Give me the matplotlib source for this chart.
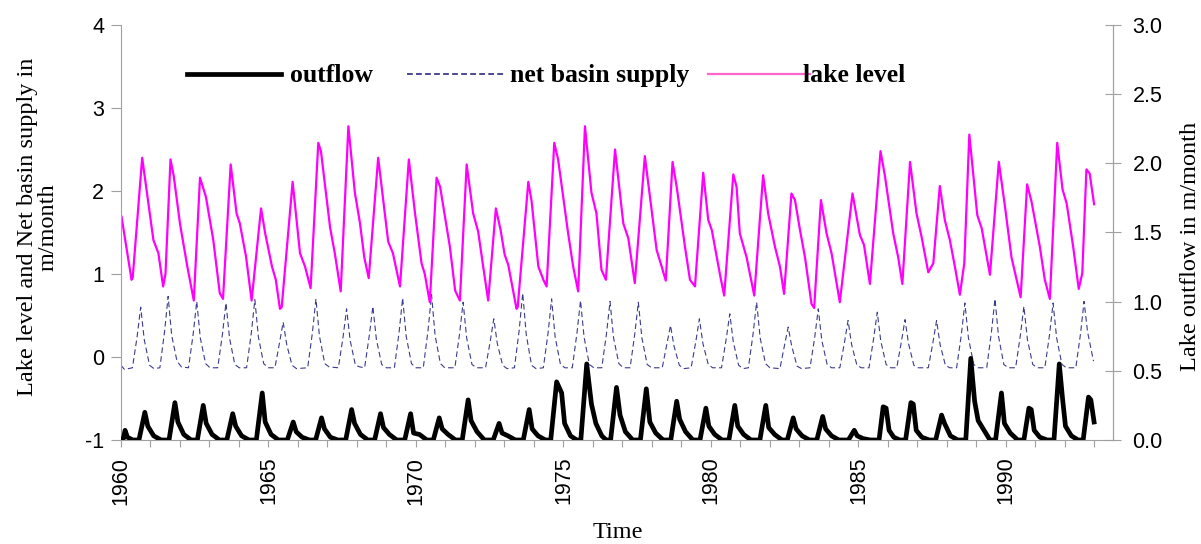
import matplotlib
matplotlib.use('Agg')
import matplotlib.pyplot as plt
from matplotlib.lines import Line2D

# lake level (left axis), vertices: decimal year, m/month
lake_t = [1960.02, 1960.36, 1960.40, 1960.72, 1961.10, 1961.27, 1961.43, 1961.51, 1961.68, 1961.79,
          1962.00, 1962.25, 1962.47, 1962.68, 1962.88, 1963.13, 1963.35, 1963.46, 1963.72, 1963.92,
          1964.03, 1964.24, 1964.43, 1964.75, 1964.89, 1965.12, 1965.25, 1965.39, 1965.45, 1965.82,
          1966.07, 1966.24, 1966.43, 1966.69, 1966.78, 1967.09, 1967.25, 1967.45, 1967.71, 1967.93,
          1968.10, 1968.25, 1968.40, 1968.72, 1969.06, 1969.22, 1969.46, 1969.76, 1969.97, 1970.19,
          1970.30, 1970.47, 1970.70, 1970.82, 1971.15, 1971.33, 1971.49, 1971.72, 1971.94, 1972.11,
          1972.28, 1972.45, 1972.71, 1972.87, 1973.01, 1973.13, 1973.41, 1973.45, 1973.81, 1973.92,
          1974.15, 1974.32, 1974.43, 1974.69, 1974.82, 1975.16, 1975.33, 1975.50, 1975.73, 1975.95,
          1976.12, 1976.29, 1976.44, 1976.75, 1977.03, 1977.20, 1977.42, 1977.76, 1978.16, 1978.33,
          1978.47, 1978.70, 1978.84, 1979.12, 1979.29, 1979.46, 1979.74, 1979.91, 1980.03, 1980.32,
          1980.45, 1980.76, 1980.87, 1980.98, 1981.21, 1981.47, 1981.77, 1981.94, 1982.17, 1982.34,
          1982.48, 1982.73, 1982.85, 1983.02, 1983.19, 1983.41, 1983.50, 1983.73, 1983.92, 1984.09,
          1984.37, 1984.80, 1985.05, 1985.19, 1985.39, 1985.75, 1985.90, 1986.18, 1986.35, 1986.49,
          1986.75, 1986.97, 1987.14, 1987.37, 1987.54, 1987.76, 1987.93, 1988.10, 1988.27, 1988.44,
          1988.59, 1988.76, 1989.03, 1989.18, 1989.46, 1989.76, 1989.97, 1990.19, 1990.50, 1990.72,
          1990.87, 1991.15, 1991.32, 1991.49, 1991.74, 1991.92, 1992.06, 1992.28, 1992.47, 1992.59,
          1992.73, 1992.84, 1992.99]
lake_v = [1.69, 0.93, 0.96, 2.40, 1.41, 1.25, 0.85, 1.00, 2.38, 2.18,
          1.61, 1.09, 0.68, 2.16, 1.93, 1.41, 0.77, 0.70, 2.32, 1.73,
          1.61, 1.21, 0.68, 1.79, 1.49, 1.09, 0.93, 0.58, 0.60, 2.11,
          1.25, 1.09, 0.83, 2.58, 2.48, 1.56, 1.25, 0.79, 2.78, 1.98,
          1.62, 1.20, 0.95, 2.40, 1.39, 1.25, 0.85, 2.38, 1.73, 1.13,
          1.00, 0.66, 2.16, 2.05, 1.33, 0.80, 0.68, 2.32, 1.73, 1.51,
          1.09, 0.68, 1.79, 1.53, 1.23, 1.11, 0.58, 0.60, 2.11, 1.88,
          1.09, 0.93, 0.85, 2.58, 2.38, 1.49, 1.09, 0.79, 2.78, 1.98,
          1.73, 1.05, 0.93, 2.50, 1.61, 1.43, 0.89, 2.42, 1.29, 1.09,
          0.92, 2.35, 2.05, 1.33, 0.93, 0.85, 2.22, 1.65, 1.53, 0.97,
          0.74, 2.20, 2.05, 1.49, 1.20, 0.74, 2.19, 1.73, 1.33, 1.09,
          0.76, 1.97, 1.89, 1.53, 1.20, 0.64, 0.59, 1.89, 1.49, 1.25,
          0.66, 1.97, 1.47, 1.35, 0.88, 2.48, 2.18, 1.49, 1.20, 0.88,
          2.35, 1.73, 1.45, 1.02, 1.13, 2.06, 1.65, 1.41, 1.09, 0.75,
          1.13, 2.68, 1.71, 1.55, 0.99, 2.35, 1.81, 1.20, 0.72, 2.08,
          1.87, 1.33, 0.93, 0.70, 2.58, 2.02, 1.85, 1.33, 0.82, 1.01,
          2.26, 2.21, 1.84]

# net basin supply (left axis)
nbs_t = [1960.00, 1960.12, 1960.39, 1960.55, 1960.67, 1960.79, 1960.97, 1961.12, 1961.32, 1961.48,
         1961.60, 1961.72, 1961.90, 1962.05, 1962.29, 1962.45, 1962.57, 1962.69, 1962.87, 1963.02,
         1963.28, 1963.44, 1963.56, 1963.68, 1963.86, 1964.01, 1964.26, 1964.42, 1964.54, 1964.66,
         1964.84, 1964.99, 1965.22, 1965.38, 1965.50, 1965.62, 1965.80, 1965.95, 1966.33, 1966.49,
         1966.61, 1966.73, 1966.91, 1967.06, 1967.37, 1967.53, 1967.65, 1967.77, 1967.95, 1968.10,
         1968.26, 1968.42, 1968.54, 1968.66, 1968.84, 1968.99, 1969.27, 1969.43, 1969.55, 1969.67,
         1969.85, 1970.00, 1970.25, 1970.41, 1970.53, 1970.65, 1970.83, 1970.98, 1971.32, 1971.48,
         1971.60, 1971.72, 1971.90, 1972.05, 1972.36, 1972.52, 1972.64, 1972.76, 1972.94, 1973.09,
         1973.34, 1973.50, 1973.62, 1973.74, 1973.92, 1974.07, 1974.32, 1974.48, 1974.60, 1974.72,
         1974.90, 1975.05, 1975.30, 1975.46, 1975.58, 1975.70, 1975.88, 1976.03, 1976.30, 1976.46,
         1976.58, 1976.70, 1976.88, 1977.03, 1977.26, 1977.42, 1977.54, 1977.66, 1977.84, 1977.99,
         1978.35, 1978.51, 1978.63, 1978.75, 1978.93, 1979.08, 1979.33, 1979.49, 1979.61, 1979.73,
         1979.91, 1980.06, 1980.36, 1980.52, 1980.64, 1980.76, 1980.94, 1981.09, 1981.27, 1981.43,
         1981.55, 1981.67, 1981.85, 1982.00, 1982.34, 1982.50, 1982.62, 1982.74, 1982.92, 1983.07,
         1983.36, 1983.52, 1983.64, 1983.76, 1983.94, 1984.09, 1984.37, 1984.53, 1984.65, 1984.77,
         1984.95, 1985.10, 1985.36, 1985.52, 1985.64, 1985.76, 1985.94, 1986.09, 1986.30, 1986.46,
         1986.58, 1986.70, 1986.88, 1987.03, 1987.37, 1987.53, 1987.65, 1987.77, 1987.95, 1988.10,
         1988.33, 1988.49, 1988.61, 1988.73, 1988.91, 1989.06, 1989.35, 1989.51, 1989.63, 1989.75,
         1989.93, 1990.08, 1990.33, 1990.49, 1990.61, 1990.73, 1990.91, 1991.06, 1991.32, 1991.48,
         1991.60, 1991.72, 1991.90, 1992.05, 1992.37, 1992.53, 1992.65, 1992.77, 1992.97]
nbs_v = [-0.10, -0.15, -0.13, 0.25, 0.60, 0.21, -0.10, -0.14, -0.13, 0.31,
         0.73, 0.26, -0.05, -0.12, -0.13, 0.28, 0.67, 0.23, -0.08, -0.13,
         -0.13, 0.27, 0.65, 0.23, -0.09, -0.13, -0.13, 0.29, 0.69, 0.24,
         -0.08, -0.13, -0.13, 0.18, 0.42, 0.15, -0.10, -0.14, -0.13, 0.29,
         0.70, 0.25, -0.08, -0.12, -0.13, 0.24, 0.58, 0.20, -0.10, -0.12,
         -0.13, 0.26, 0.61, 0.21, -0.09, -0.13, -0.13, 0.30, 0.71, 0.25,
         -0.08, -0.13, -0.13, 0.32, 0.75, 0.26, -0.08, -0.13, -0.13, 0.28,
         0.66, 0.23, -0.09, -0.13, -0.13, 0.19, 0.46, 0.16, -0.10, -0.14,
         -0.13, 0.32, 0.77, 0.27, -0.10, -0.14, -0.13, 0.29, 0.70, 0.24,
         -0.09, -0.13, -0.13, 0.29, 0.68, 0.24, -0.09, -0.13, -0.13, 0.28,
         0.67, 0.23, -0.08, -0.13, -0.13, 0.28, 0.66, 0.23, -0.09, -0.13,
         -0.13, 0.16, 0.38, 0.13, -0.10, -0.14, -0.13, 0.19, 0.46, 0.16,
         -0.09, -0.13, -0.13, 0.22, 0.52, 0.18, -0.10, -0.14, -0.13, 0.28,
         0.66, 0.23, -0.08, -0.13, -0.14, 0.15, 0.36, 0.13, -0.11, -0.14,
         -0.13, 0.24, 0.58, 0.20, -0.09, -0.13, -0.13, 0.18, 0.44, 0.15,
         -0.10, -0.13, -0.13, 0.23, 0.54, 0.19, -0.09, -0.13, -0.13, 0.19,
         0.45, 0.16, -0.10, -0.13, -0.13, 0.18, 0.44, 0.15, -0.10, -0.13,
         -0.13, 0.27, 0.65, 0.23, -0.09, -0.13, -0.13, 0.30, 0.70, 0.25,
         -0.09, -0.13, -0.13, 0.26, 0.61, 0.21, -0.09, -0.13, -0.13, 0.27,
         0.65, 0.23, -0.09, -0.13, -0.13, 0.28, 0.67, 0.30, -0.05]

# lake outflow (right axis)
out_t = [1960.00, 1960.07, 1960.14, 1960.22, 1960.40, 1960.61, 1960.81, 1960.91, 1961.11, 1961.36,
         1961.63, 1961.83, 1961.93, 1962.13, 1962.38, 1962.59, 1962.79, 1962.89, 1963.09, 1963.34,
         1963.59, 1963.79, 1963.89, 1964.09, 1964.34, 1964.59, 1964.79, 1964.89, 1965.09, 1965.34,
         1965.64, 1965.84, 1965.94, 1966.14, 1966.39, 1966.60, 1966.80, 1966.90, 1967.10, 1967.35,
         1967.62, 1967.82, 1967.92, 1968.12, 1968.37, 1968.60, 1968.80, 1968.90, 1969.10, 1969.35,
         1969.62, 1969.82, 1969.92, 1970.12, 1970.37, 1970.59, 1970.79, 1970.89, 1971.09, 1971.34,
         1971.57, 1971.77, 1971.87, 1972.07, 1972.32, 1972.62, 1972.82, 1972.92, 1973.12, 1973.37,
         1973.64, 1973.84, 1973.94, 1974.14, 1974.39, 1974.57, 1974.77, 1974.94, 1975.04, 1975.24,
         1975.45, 1975.59, 1975.79, 1975.95, 1976.10, 1976.30, 1976.45, 1976.60, 1976.80, 1976.92,
         1977.10, 1977.35, 1977.61, 1977.81, 1977.93, 1978.13, 1978.38, 1978.64, 1978.84, 1978.94,
         1979.14, 1979.39, 1979.63, 1979.83, 1979.93, 1980.13, 1980.38, 1980.61, 1980.81, 1980.91,
         1981.11, 1981.36, 1981.66, 1981.86, 1981.96, 1982.16, 1982.41, 1982.59, 1982.79, 1982.89,
         1983.09, 1983.34, 1983.59, 1983.79, 1983.89, 1984.09, 1984.34, 1984.66, 1984.86, 1984.96,
         1985.16, 1985.41, 1985.70, 1985.84, 1985.94, 1986.04, 1986.20, 1986.40, 1986.60, 1986.78,
         1986.86, 1986.96, 1987.15, 1987.40, 1987.62, 1987.82, 1987.92, 1988.12, 1988.37, 1988.64,
         1988.81, 1988.94, 1989.06, 1989.23, 1989.46, 1989.65, 1989.85, 1989.95, 1990.15, 1990.40,
         1990.61, 1990.78, 1990.86, 1990.96, 1991.15, 1991.40, 1991.63, 1991.81, 1991.92, 1992.02,
         1992.22, 1992.45, 1992.62, 1992.80, 1992.88, 1992.99]
out_v = [0.00, 0.00, 0.07, 0.02, 0.00, 0.00, 0.20, 0.10, 0.03, 0.00,
         0.00, 0.27, 0.13, 0.04, 0.00, 0.00, 0.25, 0.12, 0.04, 0.00,
         0.00, 0.19, 0.10, 0.03, 0.00, 0.00, 0.34, 0.13, 0.04, 0.00,
         0.00, 0.13, 0.06, 0.02, 0.00, 0.00, 0.16, 0.08, 0.02, 0.00,
         0.00, 0.22, 0.12, 0.04, 0.00, 0.00, 0.19, 0.09, 0.04, 0.00,
         0.00, 0.19, 0.05, 0.04, 0.00, 0.00, 0.16, 0.08, 0.04, 0.00,
         0.00, 0.29, 0.14, 0.06, 0.00, 0.00, 0.12, 0.05, 0.03, 0.00,
         0.00, 0.22, 0.08, 0.03, 0.00, 0.00, 0.42, 0.34, 0.12, 0.03,
         0.00, 0.00, 0.55, 0.26, 0.12, 0.03, 0.00, 0.00, 0.38, 0.18,
         0.06, 0.00, 0.00, 0.37, 0.13, 0.05, 0.00, 0.00, 0.28, 0.15,
         0.06, 0.00, 0.00, 0.23, 0.10, 0.04, 0.00, 0.00, 0.25, 0.10,
         0.04, 0.00, 0.00, 0.25, 0.09, 0.04, 0.00, 0.00, 0.16, 0.08,
         0.03, 0.00, 0.00, 0.17, 0.08, 0.03, 0.00, 0.00, 0.07, 0.03,
         0.01, 0.00, 0.00, 0.24, 0.23, 0.07, 0.02, 0.00, 0.00, 0.27,
         0.26, 0.07, 0.02, 0.00, 0.00, 0.18, 0.12, 0.03, 0.00, 0.00,
         0.59, 0.28, 0.14, 0.08, 0.00, 0.00, 0.34, 0.12, 0.05, 0.00,
         0.00, 0.23, 0.22, 0.07, 0.02, 0.00, 0.00, 0.55, 0.30, 0.10,
         0.03, 0.00, 0.00, 0.31, 0.29, 0.13]

left_ticks = [-1, 0, 1, 2, 3, 4]
right_ticks = [0.0, 0.5, 1.0, 1.5, 2.0, 2.5, 3.0]
years = list(range(1960, 1994))
series_names = ['outflow', 'net basin supply', 'lake level']

GRAY = '#a0a0a0'
SANS = 'Liberation Sans'
SERIF = 'Liberation Serif'
NAVY = '#3c3c8c'
MAGENTA = '#ff00ff'

W, H = 1201, 544
fig = plt.figure(figsize=(W / 100, H / 100), dpi=100)
ax = fig.add_axes([0.1007, 0.1912, 0.826, 0.7629])
ax2 = ax.twinx()

ax.plot(nbs_t, nbs_v, color=NAVY, lw=0.8, dashes=(5, 3))
ax.plot(lake_t, lake_v, color=MAGENTA, lw=1.6)
ax2.plot(out_t, out_v, color='black', lw=3.4, solid_joinstyle='round')

ax.set_xlim(1960, 1993.63)
ax.set_ylim(-1, 4)
ax2.set_ylim(0, 3)

for a in (ax, ax2):
    a.spines['top'].set_visible(False)
    for s in ('left', 'right', 'bottom'):
        a.spines[s].set_color(GRAY)
ax2.spines['left'].set_visible(False)
ax2.spines['bottom'].set_visible(False)

ax.set_yticks(left_ticks)
ax.set_yticklabels([str(v) for v in left_ticks], family=SANS, fontsize=15.5)
ax.tick_params(axis='y', direction='out', length=7, color=GRAY, pad=5)

ax.set_xticks(years)
ax.set_xticklabels([str(y) if y % 5 == 0 else '' for y in years],
                   family=SANS, fontsize=15.5, rotation=90)
ax.tick_params(axis='x', direction='out', length=5, color=GRAY, pad=7)

ax2.set_yticks(right_ticks)
ax2.set_yticklabels(['%.1f' % v for v in right_ticks], family=SANS, fontsize=15.5)
ax2.tick_params(axis='y', direction='inout', length=12, color=GRAY, pad=8)

fig.text(38 / W, 1 - 227 / H, 'Lake level and Net basin supply in\nm/month', rotation=90,
         ha='center', va='center', family=SERIF, fontsize=17.5, linespacing=1.0)
fig.text(1190 / W, 1 - 246 / H, 'Lake outflow in m/month', rotation=90,
         ha='center', va='center', family=SERIF, fontsize=17.5)
fig.text(618 / W, 1 - 533 / H, 'Time', ha='center', va='center', family=SERIF, fontsize=17.5)

# legend drawn by hand, keys and labels placed where the reference has them
key_y = 1 - 74 / H
keys = [((187, 281), dict(color='black', lw=3.4)),
        ((407, 505), dict(color=NAVY, lw=1.3, dashes=(3.2, 1.8))),
        ((708, 810), dict(color='#ff66cc', lw=1.6))]
text_x = [290, 510, 803]
for ((x0, x1), style), tx, name in zip(keys, text_x, series_names):
    fig.add_artist(Line2D([x0 / W, x1 / W], [key_y, key_y], transform=fig.transFigure, **style))
    fig.text(tx / W, 1 - 82 / H, name, ha='left', va='baseline', family=SERIF,
             weight='bold', fontsize=18.5)

fig.savefig('out.png', dpi=100)
